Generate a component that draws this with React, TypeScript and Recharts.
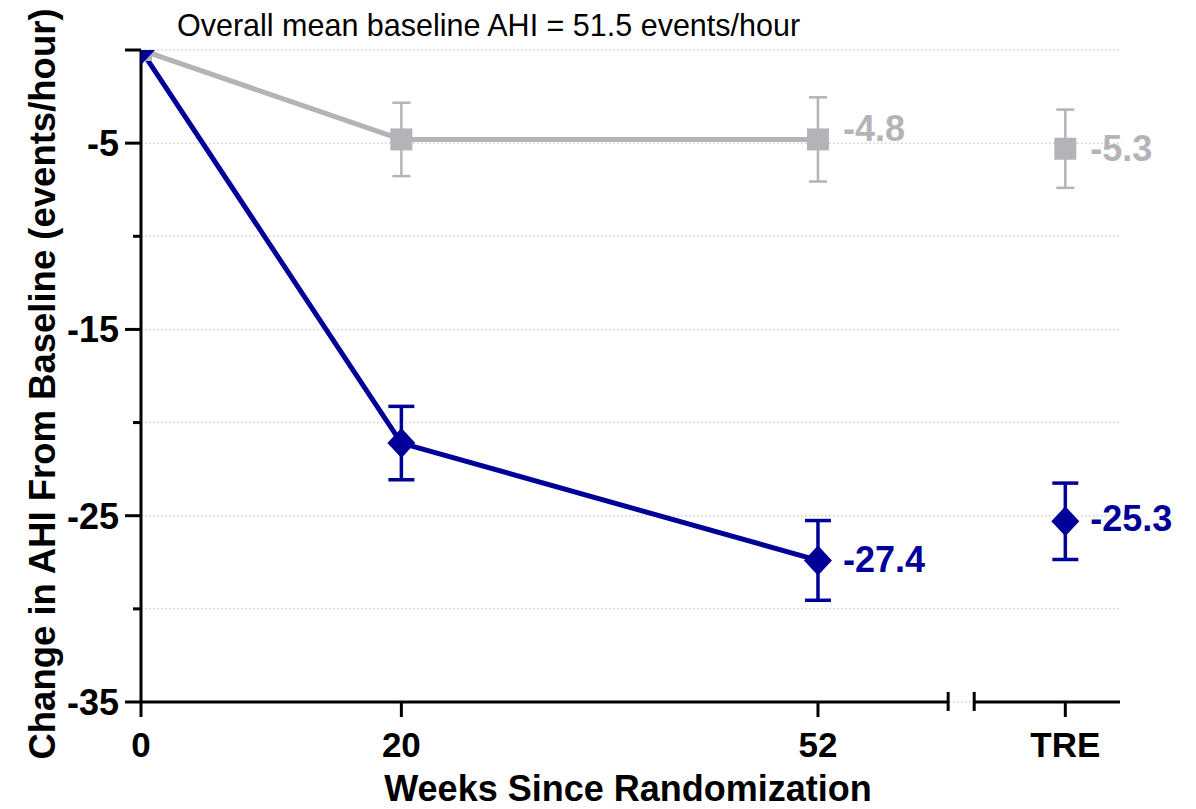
import React from 'react';
import {
  ComposedChart,
  Line,
  XAxis,
  YAxis,
  ErrorBar,
  ReferenceLine,
  CartesianGrid,
  LabelList,
} from 'recharts';

const FONT = '"Liberation Sans", Arial, Helvetica, sans-serif';
const GREY = '#b4b4b8';
const BLUE = '#000099';

// ---- data ----
const weeks = [0, 20, 52];
const placeboChange = [0, -4.8, -4.8];
const placeboSE = [0, 1.97, 2.26];
const placeboValueLabels = ['', '', '-4.8'];
const tirzChange = [0, -21.1, -27.4];
const tirzSE = [0, 1.97, 2.14];
const tirzValueLabels = ['', '', '-27.4'];

const treCategory = 'TRE';
const trePosition = 71;
const trePlacebo = -5.3;
const trePlaceboSE = 2.1;
const trePlaceboLabel = '-5.3';
const treTirz = -25.3;
const treTirzSE = 2.05;
const treTirzLabel = '-25.3';

const xTicks = [0, 20, 52, trePosition];
const xTickLabels = ['0', '20', '52', treCategory];
const yTicks = [0, -5, -10, -15, -20, -25, -30, -35];
const yLabeledTicks = [-5, -15, -25, -35];
const yLongTicks = [0, -5, -15, -25, -35];
const xDomain: [number, number] = [0, 75.2];
const yDomain: [number, number] = [-35, 0];
const axisBreak = [62, 64];

const annotation = 'Overall mean baseline AHI = 51.5 events/hour';
const yTitle = 'Change in AHI From Baseline (events/hour)';
const xTitle = 'Weeks Since Randomization';

// ---- rows built from arrays ----
const placeboRows = weeks.map((w, i) => ({ x: w, y: placeboChange[i], err: placeboSE[i], label: placeboValueLabels[i] }));
const tirzRows = weeks.map((w, i) => ({ x: w, y: tirzChange[i], err: tirzSE[i], label: tirzValueLabels[i] }));
const placeboTreRows = [{ x: trePosition, y: trePlacebo, err: trePlaceboSE, label: trePlaceboLabel }];
const tirzTreRows = [{ x: trePosition, y: treTirz, err: treTirzSE, label: treTirzLabel }];

const SquareDot = (props: any) => {
  const { cx, cy, index } = props;
  if (cx == null || cy == null) return <g key={`s-${index}`} />;
  return <rect key={`s-${index}-${cx}`} x={cx - 11} y={cy - 11} width={22} height={22} fill={GREY} />;
};

const DiamondDot = (props: any) => {
  const { cx, cy, index } = props;
  if (cx == null || cy == null) return <g key={`d-${index}`} />;
  return (
    <path
      key={`d-${index}-${cx}`}
      d={`M${cx},${cy - 15} L${cx + 14},${cy} L${cx},${cy + 15} L${cx - 14},${cy} Z`}
      fill={BLUE}
    />
  );
};

const makeValueLabel = (color: string, dy: number) => (props: any) => {
  const { x, y, value } = props;
  if (!value) return null;
  return (
    <text
      x={x + 25}
      y={y + 12 + dy}
      fill={color}
      fontFamily={FONT}
      fontWeight="bold"
      fontSize={36}
      textAnchor="start"
    >
      {value}
    </text>
  );
};

const YTick = (props: any) => {
  const { x, y, payload } = props;
  const v = payload.value;
  const long = yLongTicks.includes(v);
  return (
    <g>
      <line x1={x - (long ? 16 : 8)} x2={x} y1={y} y2={y} stroke="#000" strokeWidth={3} />
      {yLabeledTicks.includes(v) && (
        <text x={x - 22} y={y + 13} textAnchor="end" fontFamily={FONT} fontWeight="bold" fontSize={36} fill="#000">
          {v}
        </text>
      )}
    </g>
  );
};

const XTick = (props: any) => {
  const { x, y, payload } = props;
  const i = xTicks.indexOf(payload.value);
  return (
    <g>
      <line x1={x} x2={x} y1={y} y2={y + 15} stroke="#000" strokeWidth={3} />
      <text x={x} y={y + 55} textAnchor="middle" fontFamily={FONT} fontWeight="bold" fontSize={35} fill="#000">
        {xTickLabels[i]}
      </text>
    </g>
  );
};

export default function App() {
  return (
    <div style={{ position: 'absolute', left: 0, top: 0, width: 1196, height: 809, background: '#fff' }}>
      <ComposedChart width={1196} height={809} margin={{ top: 50, right: 76, bottom: 0, left: 0 }}>
        <CartesianGrid vertical={false} stroke="#cfcfcf" strokeWidth={1.5} strokeDasharray="1.5 2.5" />
        <XAxis
          type="number"
          dataKey="x"
          domain={xDomain}
          allowDataOverflow
          ticks={xTicks}
          interval={0}
          axisLine={false}
          tickLine={false}
          tickSize={0}
          tickMargin={0}
          tick={<XTick />}
          height={107}
        />
        <YAxis
          type="number"
          domain={yDomain}
          allowDataOverflow
          ticks={yTicks}
          interval={0}
          width={141}
          axisLine={{ stroke: '#000', strokeWidth: 3 }}
          tickLine={false}
          tickSize={0}
          tickMargin={0}
          tick={<YTick />}
        />
        {/* broken x axis */}
        <ReferenceLine
          segment={[{ x: 0, y: -35 }, { x: axisBreak[0], y: -35 }]}
          stroke="#000"
          strokeWidth={3}
          ifOverflow="visible"
        />
        <ReferenceLine
          segment={[{ x: axisBreak[1], y: -35 }, { x: xDomain[1], y: -35 }]}
          stroke="#000"
          strokeWidth={3}
          ifOverflow="visible"
        />
        <ReferenceLine
          segment={[{ x: axisBreak[0], y: -34.46 }, { x: axisBreak[0], y: -35.48 }]}
          stroke="#000"
          strokeWidth={3}
          ifOverflow="visible"
        />
        <ReferenceLine
          segment={[{ x: axisBreak[1], y: -34.46 }, { x: axisBreak[1], y: -35.48 }]}
          stroke="#000"
          strokeWidth={3}
          ifOverflow="visible"
        />

        <Line
          data={placeboRows}
          dataKey="y"
          stroke={GREY}
          strokeWidth={5}
          dot={SquareDot}
          activeDot={false}
          isAnimationActive={false}
        >
          <ErrorBar dataKey="err" width={9} stroke={GREY} strokeWidth={2.5} direction="y" />
          <LabelList dataKey="label" content={makeValueLabel(GREY, -10)} />
        </Line>
        <Line
          data={placeboTreRows}
          dataKey="y"
          stroke={GREY}
          strokeWidth={5}
          dot={SquareDot}
          activeDot={false}
          isAnimationActive={false}
        >
          <ErrorBar dataKey="err" width={9} stroke={GREY} strokeWidth={2.5} direction="y" />
          <LabelList dataKey="label" content={makeValueLabel(GREY, 0)} />
        </Line>
        <Line
          data={tirzRows}
          dataKey="y"
          stroke={BLUE}
          strokeWidth={5}
          dot={DiamondDot}
          activeDot={false}
          isAnimationActive={false}
        >
          <ErrorBar dataKey="err" width={13} stroke={BLUE} strokeWidth={3.5} direction="y" />
          <LabelList dataKey="label" content={makeValueLabel(BLUE, 0)} />
        </Line>
        <Line
          data={tirzTreRows}
          dataKey="y"
          stroke={BLUE}
          strokeWidth={5}
          dot={DiamondDot}
          activeDot={false}
          isAnimationActive={false}
        >
          <ErrorBar dataKey="err" width={13} stroke={BLUE} strokeWidth={3.5} direction="y" />
          <LabelList dataKey="label" content={makeValueLabel(BLUE, -2)} />
        </Line>

        <text x={177} y={36} fontFamily={FONT} fontSize={30.5} fill="#000">
          {annotation}
        </text>
        <text
          x={55}
          y={384}
          transform="rotate(-90 55 384)"
          textAnchor="middle"
          fontFamily={FONT}
          fontWeight="bold"
          fontSize={36.5}
          fill="#000"
        >
          {yTitle}
        </text>
        <text x={628} y={801} textAnchor="middle" fontFamily={FONT} fontWeight="bold" fontSize={36} fill="#000">
          {xTitle}
        </text>
      </ComposedChart>
    </div>
  );
}
